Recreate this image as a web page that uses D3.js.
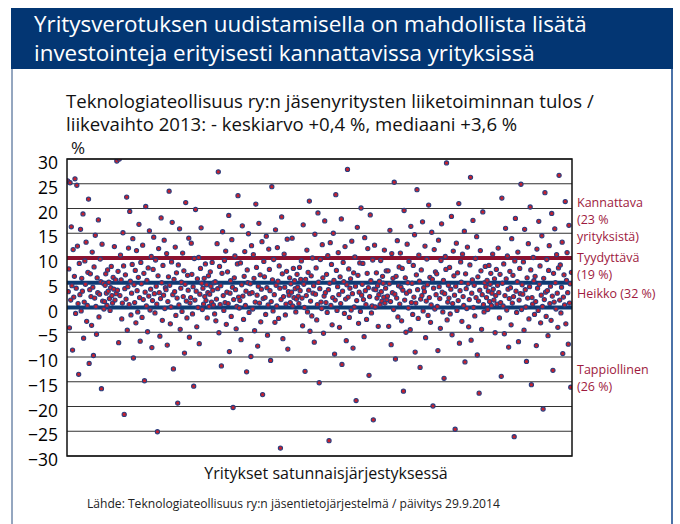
<!DOCTYPE html>
<html>
<head>
<meta charset="utf-8">
<script src="https://cdn.jsdelivr.net/npm/d3@7/dist/d3.min.js"></script>
<style>
	body { margin: 0; background: #fff; }
	svg { display: block; font-family: "Open Sans", sans-serif; }
	.otsikko { fill: #fff; font-size: 22.4px; }
	.alaotsikko { fill: #111; font-size: 18.6px; }
	.tick text { fill: #000; font-size: 17.5px; }
	.luokka { fill: #9e1a3e; font-size: 12.5px; }
	.lahde { fill: #222; font-size: 12.1px; }
</style>
</head>
<body>
<div id="chart"></div>
<script>

// yritysten tulos / liikevaihto (%), satunnaisjärjestyksessä
var tulokset = [
	25.6, 3.2, 7.8, -4.1, 25.2, 1.5, 16.3, 4.4, -8.6, 11.7, 2.1, 6.3, 26.0, -1.2, 3.9, 24.7, 12.4, 0.8, -13.5, 8.9,
	2.6, 15.8, -0.7, 5.9, 3.3, 18.9, -6.2, 1.1, 9.4, 4.7, 13.2, -2.8, 0.4, 7.1, 21.9, -11.3, 3.6, 6.8, 2.2, -3.6,
	11.2, 4.1, -9.7, 8.2, 1.9, 14.6, 0.2, -5.4, 6.0, 3.0, 17.7, -1.9, 2.7, 9.8, 5.2, -16.4, 12.8, 1.3, 4.9, -0.3,
	1.2, 4.5, 6.8, 2.9, 0.4, 7.6, 3.3, 5.1, 1.8, -0.6, 4.0, 8.3, 2.4, 0.9, 6.1, 3.7, 12.3, 1.5, 5.6, 2.8,
	29.6, 3.5, 7.3, -7.1, 30.0, 2.4, 10.6, 5.6, -2.3, 0.9, 15.1, 8.4, -21.6, 3.8, 6.6, 1.7, 22.3, -4.6, 4.2, 12.0,
	0.6, 19.4, 5.3, -1.5, 2.9, 8.7, 13.9, -10.2, 4.6, 1.0, 7.5, -3.1, 11.5, 3.4, -0.9, 6.1, 16.8, 2.0, -6.8, 9.1,
	4.8, -2.0, 12.6, 1.6, 6.9, -14.8, 3.1, 20.4, 0.3, 5.5, -4.9, 8.0, 2.3, 15.5, -0.5, 3.7, 10.3, -8.1, 1.4, 7.7,
	14.2, 2.8, -1.1, 9.6, 4.3, 0.7, -25.1, 6.4, 11.9, 3.0, -5.8, 1.8, 18.1, 5.0, -2.6, 8.5, 2.5, 13.6, -0.2, 4.0,
	3.6, 10.9, -7.6, 1.2, 6.2, 23.5, 4.5, -3.3, 0.1, 9.2, 17.2, 2.6, -12.4, 5.7, 3.2, 12.2, -1.6, 7.0, 1.9, -19.3,
	8.6, 0.5, 15.9, -4.4, 3.9, 5.1, -0.8, 11.0, 2.2, 7.4, -9.2, 4.7, 21.2, 1.3, -2.1, 6.5, 3.5, 14.0, -6.0, 0.9,
	2.0, 13.0, 6.7, -1.3, 4.2, -15.9, 9.9, 1.5, 19.8, 3.3, -3.9, 5.8, 0.0, 10.1, -7.3, 2.7, 7.9, 16.1, 4.9, -0.4,
	3.9, 0.7, 5.9, 2.2, 8.8, 1.4, 4.6, -2.1, 3.0, 6.4, 0.2, 2.7, 7.2, 4.3, 1.1, 9.1, 3.5, 0.5, 5.0, -1.3,
	5.2, -2.7, 1.7, 12.9, 3.8, 27.4, -5.1, 8.3, 0.6, 4.4, -11.8, 6.9, 15.3, 2.4, -0.6, 9.5, 1.0, 11.4, -3.4, 3.1,
	7.2, 0.8, 18.6, -8.9, 2.9, 5.4, -1.8, 13.7, 4.1, -20.2, 1.6, 6.0, 10.4, 3.6, -4.3, 0.2, 8.8, 22.6, 2.1, -0.1,
	1.4, 9.0, -6.5, 4.6, 16.5, 2.3, -2.4, 6.3, 11.3, 0.4, 3.3, -13.0, 7.6, 5.0, 14.9, -1.0, 2.8, 4.8, -9.9, 12.5,
	3.0, -0.3, 10.7, 5.9, -4.7, 1.1, 20.9, 8.1, 2.5, -7.8, 4.3, 17.0, 0.9, 6.6, -2.9, 3.7, 13.3, -17.6, 1.8, 9.3,
	6.2, 2.0, -1.4, 14.4, 4.0, -5.6, 0.5, 11.8, 7.7, 3.4, -10.7, 1.2, 24.4, 5.6, -0.7, 9.7, 2.6, -3.0, 15.7, 4.5,
	0.3, 12.1, 5.3, -2.2, 8.4, 3.9, -28.4, 1.6, 18.3, 6.8, -6.3, 2.2, 10.8, 4.1, -1.5, 0.7, 7.3, 13.8, -8.4, 3.2,
	2.5, 6.0, 1.0, 4.8, 3.1, 14.0, 0.3, 7.9, 2.0, 5.4, 3.8, -0.9, 1.7, 6.7, 4.1, 2.3, 0.8, 8.1, 3.4, 5.7,
	9.4, 1.9, -3.7, 16.7, 4.7, 0.0, -12.9, 5.7, 2.4, 11.6, -0.9, 7.1, 3.5, 21.5, -4.8, 1.3, 6.4, -1.7, 10.0, 2.9,
	4.4, -7.0, 14.8, 2.7, 8.0, -2.5, 0.6, 19.1, 5.1, -15.2, 3.8, 9.7, 1.1, -0.2, 12.7, 6.0, -5.2, 2.3, 17.5, 3.0,
	1.0, 6.7, -1.0, 10.5, 3.6, -26.9, 4.9, 13.1, 0.4, 8.7, -3.5, 2.0, 15.0, 5.5, -9.4, 1.5, 22.8, 7.5, -0.6, 4.2,
	11.1, 2.6, -4.0, 6.2, 0.8, 17.9, -11.5, 3.3, 9.1, 5.2, -1.2, 12.3, 1.7, -6.7, 4.6, 27.9, 2.1, 7.8, -2.0, 3.9,
	5.8, -0.5, 13.4, 2.8, -8.2, 7.0, 0.1, 10.2, 4.3, -18.8, 1.4, 16.2, 6.5, -3.2, 3.1, 9.0, -0.8, 20.1, 2.5, 4.7,
	8.9, 1.6, -5.9, 14.1, 3.4, 0.6, -2.4, 6.9, 11.9, 4.0, -13.7, 2.2, 18.7, 5.4, -1.1, 0.3, 9.6, -22.7, 3.7, 12.6,
	0.1, 3.6, 7.0, 1.9, 4.4, -3.8, 2.6, 5.3, 0.6, 9.5, 3.2, 1.3, 6.3, 4.9, 2.1, 11.6, 0.9, 3.9, 7.4, 1.6,
	2.3, 7.4, -3.8, 4.8, 15.6, 1.2, -7.5, 10.9, 3.0, 5.9, -0.4, 25.3, 2.7, -10.4, 6.3, 1.9, 13.5, -1.9, 4.4, 8.2,
	0.7, 11.0, 4.1, -2.7, 7.9, 3.5, -16.9, 19.6, 1.5, 6.0, -5.0, 2.9, 12.8, 5.0, -0.1, 9.3, 3.3, -4.5, 16.4, 1.0,
	4.9, -1.4, 8.5, 2.1, 14.7, -9.0, 0.9, 6.6, 23.8, 3.6, -2.2, 10.6, 5.3, -12.1, 1.7, 7.6, 2.4, 17.3, -0.7, 4.0,
	3.2, 12.4, -6.1, 1.3, 9.8, 4.6, -1.6, 20.7, 2.0, 6.1, -3.0, 0.5, 15.2, 5.7, -19.9, 3.9, 11.7, -0.3, 7.2, 2.6,
	6.8, 0.2, -8.7, 13.6, 4.2, 1.8, -4.2, 9.5, 16.9, 3.1, -0.9, 5.5, -14.3, 2.8, 10.3, 7.7, 29.2, -2.5, 1.1, 4.5,
	1.9, 8.1, -1.3, 3.7, 18.4, -5.5, 0.8, 11.4, 6.4, 2.5, -24.6, 4.3, 13.0, -0.6, 7.0, 1.4, 21.0, -7.2, 3.4, 9.2,
	5.1, -2.8, 10.8, 2.2, 0.4, 15.4, -11.0, 6.8, 3.8, -0.2, 12.2, 4.8, -3.9, 1.6, 8.6, 26.3, -6.6, 2.9, 5.6, 17.6,
	0.0, 4.5, -1.7, 9.9, 2.0, 14.3, -9.6, 6.2, 1.3, -17.3, 3.5, 11.5, 7.4, -4.4, 2.6, 19.3, 0.6, -0.9, 5.0, 8.3,
	4.2, 2.0, 5.5, -0.4, 3.3, 8.5, 1.2, 4.7, 6.9, 0.4, 2.9, 10.8, 3.7, 1.5, 5.8, -5.1, 2.4, 7.7, 0.7, 4.5,
	12.0, 3.0, -2.1, 6.7, 1.0, -13.9, 22.1, 4.9, 0.3, 8.8, -5.3, 2.4, 16.0, 5.8, -0.5, 10.4, 3.7, -8.0, 1.8, 7.3,
	4.0, -3.5, 13.9, 0.9, 6.5, 2.2, -26.1, 9.4, 18.0, 3.3, -1.0, 5.2, 11.2, -6.9, 1.5, 7.9, 2.8, 24.9, -0.4, 4.6,
	2.7, 9.2, -4.6, 15.8, 3.6, 0.1, -10.9, 6.0, 1.9, 12.9, -2.3, 4.2, 20.3, 7.6, -15.6, 2.0, 0.7, 10.1, 5.4, -1.4,
	6.3, 1.2, -7.7, 11.8, 3.9, -0.6, 17.4, 4.7, 8.4, -3.1, 2.5, 14.5, 0.2, -20.5, 5.9, 1.6, 23.2, 3.1, -1.8, 9.7,
	3.4, -5.7, 7.5, 12.5, 0.8, 4.3, -2.6, 19.0, 2.3, -12.7, 6.9, 1.1, 15.9, 5.0, -0.3, 10.7, 2.9, -4.0, 8.0, 26.7,
	1.5, 8.6, -1.1, 4.1, 13.2, -9.3, 2.1, 6.6, 0.5, 21.4, -3.3, 5.5, 11.1, 3.0, -7.4, 16.6, 0.9, 4.8, -16.1, 7.1
];

var yTicks = [30, 25, 20, 15, 10, 5, 0, -5, -10, -15, -20, -25, -30];

// luokkarajat: kannattava / tyydyttävä / heikko
var rajat = [10, 5, 0];
var rajaVarit = ["#8c1230", "#0e3b73", "#0e3b73"];

var luokat = [
	["Kannattava", "(23 %", "yrityksistä)"],
	["Tyydyttävä", "(19 %)"],
	["Heikko (32 %)"],
	["Tappiollinen", "(26 %)"]
];

var otsikko = ["Yritysverotuksen uudistamisella on mahdollista lisätä",
	"investointeja erityisesti kannattavissa yrityksissä"];
var alaotsikko = ["Teknologiateollisuus ry:n jäsenyritysten liiketoiminnan tulos /",
	"liikevaihto 2013: - keskiarvo +0,4 %, mediaani +3,6 %"];

drawChart();

function drawChart() {

	var W = 680, H = 524;
	var margin = {top: 159, left: 67},
		width = 505,
		height = 297;

	var svg = d3.select("#chart").append("svg")
		.attr("width", W)
		.attr("height", H);

	// kehys ja otsikkopalkki
	svg.append("rect")
		.attr("x", 11).attr("y", 8)
		.attr("width", 662).attr("height", 61)
		.attr("fill", "#033673");
	svg.append("line")
		.attr("x1", 12).attr("x2", 12).attr("y1", 69).attr("y2", H)
		.attr("stroke", "#2b4f80").attr("stroke-width", 1);
	svg.append("line")
		.attr("x1", 672).attr("x2", 672).attr("y1", 69).attr("y2", H)
		.attr("stroke", "#4b72a8").attr("stroke-width", 2);

	svg.append("g").selectAll("text")
		.data(otsikko)
	.enter().append("text")
		.attr("class", "otsikko")
		.attr("x", 34)
		.attr("y", function(d, i) { return 32 + i * 29; })
		.text(function(d) { return d; });

	svg.append("g").selectAll("text")
		.data(alaotsikko)
	.enter().append("text")
		.attr("class", "alaotsikko")
		.attr("x", 66)
		.attr("y", function(d, i) { return 108 + i * 23; })
		.text(function(d) { return d; });

	svg.append("text")
		.attr("class", "alaotsikko")
		.attr("x", 71).attr("y", 154)
		.style("font-size", "17px")
		.text("%");

	var x = d3.scaleLinear()
		.domain([-1, tulokset.length])
		.range([0, width]);

	var y = d3.scaleLinear()
		.domain([-30, 30])
		.range([height, 0]);

	var g = svg.append("g")
		.attr("transform", "translate(" + margin.left + "," + margin.top + ")");

	g.append("clipPath").attr("id", "alue")
		.append("rect").attr("width", width).attr("height", height);

	// vaakaviivat
	g.append("g").selectAll("line")
		.data(yTicks)
	.enter().append("line")
		.attr("x1", 0).attr("x2", width)
		.attr("y1", function(d) { return y(d); })
		.attr("y2", function(d) { return y(d); })
		.attr("stroke", "#333")
		.attr("stroke-width", 1.2);

	var yAxis = d3.axisLeft(y)
		.tickValues(yTicks)
		.tickSize(0)
		.tickPadding(9);

	g.append("g")
		.call(yAxis)
		.call(function(a) { a.select(".domain").remove(); })
		.selectAll("text")
			.attr("dy", "0.55em")
			.style("font-family", "'Open Sans', sans-serif");

	// rajaviivat
	g.append("g").selectAll("line")
		.data(rajat)
	.enter().append("line")
		.attr("x1", 0).attr("x2", width)
		.attr("y1", function(d) { return y(d); })
		.attr("y2", function(d) { return y(d); })
		.attr("stroke", function(d, i) { return rajaVarit[i]; })
		.attr("stroke-width", 4);

	// yritykset
	g.append("g")
		.attr("clip-path", "url(#alue)")
		.selectAll("circle")
		.data(tulokset)
	.enter().append("circle")
		.attr("cx", function(d, i) { return x(i); })
		.attr("cy", function(d) { return y(d); })
		.attr("r", 2.1)
		.attr("fill", "#c8202c")
		.attr("stroke", "#2c3d7e")
		.attr("stroke-width", 1.1);

	// kehys
	g.append("rect")
		.attr("width", width).attr("height", height)
		.attr("fill", "none")
		.attr("stroke", "#111")
		.attr("stroke-width", 1.5);

	// luokkien nimet oikealla
	var ankkurit = [y(20.4), y(9.2), y(2.0), y(-13.5)];
	var luokka = g.append("g").selectAll("text")
		.data(luokat)
	.enter().append("text")
		.attr("class", "luokka")
		.attr("transform", function(d, i) { return "translate(" + (width + 5) + "," + ankkurit[i] + ")"; });

	luokka.selectAll("tspan")
		.data(function(d) { return d; })
	.enter().append("tspan")
		.attr("x", 0)
		.attr("y", function(d, i) { return i * 17; })
		.text(function(d) { return d; });

	svg.append("text")
		.attr("x", 326).attr("y", 479)
		.attr("text-anchor", "middle")
		.style("font-size", "16px")
		.style("fill", "#111")
		.text("Yritykset satunnaisjärjestyksessä");

	svg.append("text")
		.attr("class", "lahde")
		.attr("x", 87).attr("y", 508)
		.text("Lähde: Teknologiateollisuus ry:n jäsentietojärjestelmä / päivitys 29.9.2014");
}

</script>
</body>
</html>
